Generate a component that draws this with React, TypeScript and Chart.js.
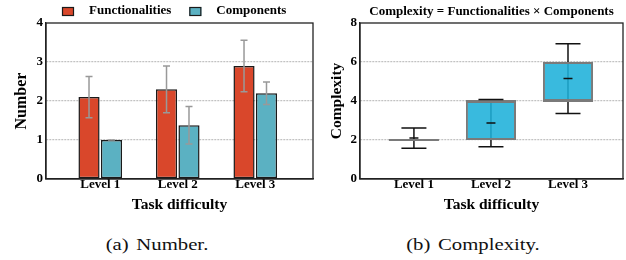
import React, { useEffect, useRef } from 'react';
import { Chart, registerables } from 'chart.js';

Chart.register(...registerables);

const SERIF = "'Liberation Serif', 'Times New Roman', Times, serif";

// ---------------- data ----------------
const categories = ['Level 1', 'Level 2', 'Level 3'];
const seriesNames = ['Functionalities', 'Components'];
const functionalitiesMean = [2.1, 2.3, 2.9];
const functionalitiesErr = [0.53, 0.6, 0.66];
const componentsMean = [1.0, 1.38, 2.2];
const componentsErr = [0.0, 0.48, 0.29];
const numberTicks = [0, 1, 2, 3, 4];

const complexityQ1 = [2, 2, 4];
const complexityQ3 = [2, 4, 6];
const complexityMedian = [2, 4, 4];
const complexityMean = [2.1, 2.87, 5.15];
const complexityErr = [0.52, 1.21, 1.79];
const complexityTicks = [0, 2, 4, 6, 8];

const xTitleText = 'Task difficulty';
const yTitleNumber = 'Number';
const yTitleComplexity = 'Complexity';
const complexityTitle = 'Complexity = Functionalities × Components';
const captionA = '(a) Number.';
const captionB = '(b) Complexity.';

// ---------------- styles ----------------
const RED = '#d9472b';
const TEAL = '#5bb1c2';
const BOX = 'rgba(30,176,218,0.88)';
const FRAME = '#222';

const framePlugin = {
  id: 'frame',
  afterDraw(chart: any) {
    const { ctx, chartArea: a } = chart;
    ctx.save();
    ctx.strokeStyle = FRAME;
    ctx.lineWidth = 1.3;
    ctx.strokeRect(a.left, a.top, a.right - a.left, a.bottom - a.top);
    ctx.restore();
  },
};

const legendPlugin = {
  id: 'topLegend',
  afterDraw(chart: any) {
    const { ctx, chartArea: a } = chart;
    ctx.save();
    ctx.font = `bold 13px ${SERIF}`;
    ctx.textBaseline = 'middle';
    ctx.textAlign = 'left';
    let x = a.left + 16;
    const boxTop = 7;
    chart.data.datasets.forEach((ds: any) => {
      ctx.fillStyle = ds.backgroundColor;
      ctx.fillRect(x, boxTop, 12, 9);
      ctx.strokeStyle = '#1a1a1a';
      ctx.lineWidth = 1.2;
      ctx.strokeRect(x + 0.5, boxTop + 0.5, 11, 8);
      x += 12 + 15;
      ctx.fillStyle = '#000';
      ctx.fillText(ds.label, x, 10.5);
      x += ctx.measureText(ds.label).width + 18;
    });
    ctx.restore();
  },
};

const errorBarPlugin = {
  id: 'errorBars',
  afterDatasetsDraw(chart: any) {
    const { ctx } = chart;
    const y = chart.scales.y;
    ctx.save();
    ctx.strokeStyle = '#999';
    ctx.lineWidth = 1.5;
    chart.data.datasets.forEach((ds: any, di: number) => {
      const meta = chart.getDatasetMeta(di);
      meta.data.forEach((el: any, i: number) => {
        const m = ds.data[i].y;
        const e = ds.errors[i];
        const yt = y.getPixelForValue(m + e);
        const yb = y.getPixelForValue(m - e);
        const cap = 3.5;
        ctx.beginPath();
        ctx.moveTo(el.x, yt);
        ctx.lineTo(el.x, yb);
        ctx.moveTo(el.x - cap, yt);
        ctx.lineTo(el.x + cap, yt);
        ctx.moveTo(el.x - cap, yb);
        ctx.lineTo(el.x + cap, yb);
        ctx.stroke();
      });
    });
    ctx.restore();
  },
};

const boxExtrasPlugin = {
  id: 'boxExtras',
  beforeDatasetsDraw(chart: any) {
    const { ctx } = chart;
    const y = chart.scales.y;
    const meta = chart.getDatasetMeta(0);
    ctx.save();
    ctx.strokeStyle = '#111';
    ctx.lineWidth = 1.5;
    meta.data.forEach((el: any, i: number) => {
      ctx.beginPath();
      ctx.moveTo(el.x, y.getPixelForValue(complexityMean[i] + complexityErr[i]));
      ctx.lineTo(el.x, y.getPixelForValue(complexityMean[i] - complexityErr[i]));
      ctx.stroke();
    });
    ctx.restore();
  },
  afterDatasetsDraw(chart: any) {
    const { ctx } = chart;
    const y = chart.scales.y;
    const meta = chart.getDatasetMeta(0);
    ctx.save();
    meta.data.forEach((el: any, i: number) => {
      const ym = y.getPixelForValue(complexityMedian[i]);
      ctx.strokeStyle = '#7a7a7a';
      ctx.lineWidth = 2;
      ctx.beginPath();
      ctx.moveTo(el.x - el.width / 2, ym);
      ctx.lineTo(el.x + el.width / 2, ym);
      ctx.stroke();
      const cap = 12.5;
      const yt = y.getPixelForValue(complexityMean[i] + complexityErr[i]);
      const yb = y.getPixelForValue(complexityMean[i] - complexityErr[i]);
      ctx.strokeStyle = '#111';
      ctx.lineWidth = 1.5;
      ctx.beginPath();
      ctx.moveTo(el.x - cap, yt);
      ctx.lineTo(el.x + cap, yt);
      ctx.moveTo(el.x - cap, yb);
      ctx.lineTo(el.x + cap, yb);
      const ymean = y.getPixelForValue(complexityMean[i]);
      ctx.moveTo(el.x - 4.5, ymean);
      ctx.lineTo(el.x + 4.5, ymean);
      ctx.stroke();
    });
    ctx.restore();
  },
};

const tickFont = { family: SERIF, weight: 'bold' as const, size: 13, lineHeight: 1 };
const titleFont = (size: number) => ({ family: SERIF, weight: 'bold' as const, size, lineHeight: 1 });

function makeX(min: number, max: number) {
  return {
    type: 'linear' as const,
    min,
    max,
    offset: false,
    bounds: 'ticks' as const,
    afterDataLimits: (s: any) => {
      s.min = min;
      s.max = max;
    },
    afterBuildTicks: (s: any) => {
      s.ticks = categories.map((_, i) => ({ value: i }));
    },
    afterFit: (s: any) => {
      s.height = 36;
      s.paddingLeft = 0;
      s.paddingRight = 0;
    },
    grid: { display: false, drawTicks: false, offset: false },
    border: { display: true, color: FRAME, width: 1.3 },
    ticks: {
      color: '#000',
      padding: -1,
      font: tickFont,
      maxRotation: 0,
      autoSkip: false,
      callback: (v: any) => categories[v] ?? '',
    },
    title: {
      display: true,
      text: xTitleText,
      color: '#000',
      font: titleFont(15.5),
      padding: { top: 0, bottom: 2 },
    },
  };
}

function makeY(max: number, ticks: number[], width: number, title: string, titleSize: number, titlePad: number) {
  return {
    min: 0,
    max,
    afterBuildTicks: (s: any) => {
      s.ticks = ticks.map((v) => ({ value: v }));
    },
    afterFit: (s: any) => {
      s.width = width;
      s.paddingTop = 0;
      s.paddingBottom = 0;
    },
    grid: {
      drawTicks: false,
      lineWidth: 1.3,
      color: (c: any) =>
        c.tick && (c.tick.value === 0 || c.tick.value === max) ? 'rgba(0,0,0,0)' : '#c2c2c2',
    },
    border: { display: true, color: FRAME, width: 1.3, dash: [2, 1] },
    ticks: { color: '#000', padding: 3, font: tickFont },
    title: {
      display: true,
      text: title,
      color: '#000',
      font: titleFont(titleSize),
      padding: { top: titlePad, bottom: 0 },
    },
  };
}

function numberConfig(): any {
  return {
    type: 'bar',
    data: {
      datasets: [
        {
          label: seriesNames[0],
          data: categories.map((_, i) => ({ x: i, y: functionalitiesMean[i] })),
          errors: functionalitiesErr,
          backgroundColor: RED,
          borderColor: '#1a1a1a',
          borderWidth: 1.5,
          borderSkipped: false,
        },
        {
          label: seriesNames[1],
          data: categories.map((_, i) => ({ x: i, y: componentsMean[i] })),
          errors: componentsErr,
          backgroundColor: TEAL,
          borderColor: '#1a1a1a',
          borderWidth: 1.5,
          borderSkipped: false,
        },
      ],
    },
    options: {
      responsive: false,
      animation: false,
      categoryPercentage: 0.58,
      barPercentage: 0.94,
      layout: { padding: { top: 23, right: 5, left: 0, bottom: 0 } },
      plugins: { legend: { display: false }, tooltip: { enabled: false }, title: { display: false } },
      scales: {
        x: makeX(-0.7, 2.745),
        y: makeY(4, numberTicks, 46, yTitleNumber, 16, 14),
      },
    },
    plugins: [errorBarPlugin, framePlugin, legendPlugin],
  };
}

function complexityConfig(): any {
  return {
    type: 'bar',
    data: {
      datasets: [
        {
          label: yTitleComplexity,
          data: categories.map((_, i) => ({ x: i, y: [complexityQ1[i], complexityQ3[i]] })),
          backgroundColor: BOX,
          borderColor: '#7a7a7a',
          borderWidth: 2,
          borderSkipped: false,
        },
      ],
    },
    options: {
      responsive: false,
      animation: false,
      categoryPercentage: 0.65,
      barPercentage: 1.0,
      layout: { padding: { top: 0, right: 3, left: 0, bottom: 0 } },
      plugins: {
        legend: { display: false },
        tooltip: { enabled: false },
        title: {
          display: true,
          text: complexityTitle,
          fullSize: false,
          color: '#000',
          font: titleFont(13),
          padding: { top: 5, bottom: 5 },
        },
      },
      scales: {
        x: makeX(-0.7, 2.714),
        y: makeY(8, complexityTicks, 42, yTitleComplexity, 15.5, 11),
      },
    },
    plugins: [boxExtrasPlugin, framePlugin],
  };
}

function captionStyle(center: number): React.CSSProperties {
  return {
    position: 'absolute',
    left: center - 100,
    width: 200,
    top: 236,
    fontFamily: SERIF,
    fontSize: 17,
    lineHeight: '17px',
    textAlign: 'center',
    whiteSpace: 'pre',
    wordSpacing: 2,
    color: '#111',
    transform: 'scaleX(1.22)',
  };
}

export default function App() {
  const leftRef = useRef<HTMLCanvasElement>(null);
  const rightRef = useRef<HTMLCanvasElement>(null);

  useEffect(() => {
    const a = new Chart(leftRef.current as HTMLCanvasElement, numberConfig());
    const b = new Chart(rightRef.current as HTMLCanvasElement, complexityConfig());
    return () => {
      a.destroy();
      b.destroy();
    };
  }, []);

  return (
    <div
      style={{
        position: 'absolute',
        left: 0,
        top: 0,
        width: 626,
        height: 260,
        background: '#fff',
        overflow: 'hidden',
      }}
    >
      <canvas
        ref={leftRef}
        width={318}
        height={215}
        style={{ position: 'absolute', left: 0, top: 0, width: 318, height: 215 }}
      />
      <canvas
        ref={rightRef}
        width={308}
        height={215}
        style={{ position: 'absolute', left: 318, top: 0, width: 308, height: 215 }}
      />
      <div style={captionStyle(157)}>{captionA}</div>
      <div style={captionStyle(472.5)}>{captionB}</div>
    </div>
  );
}
